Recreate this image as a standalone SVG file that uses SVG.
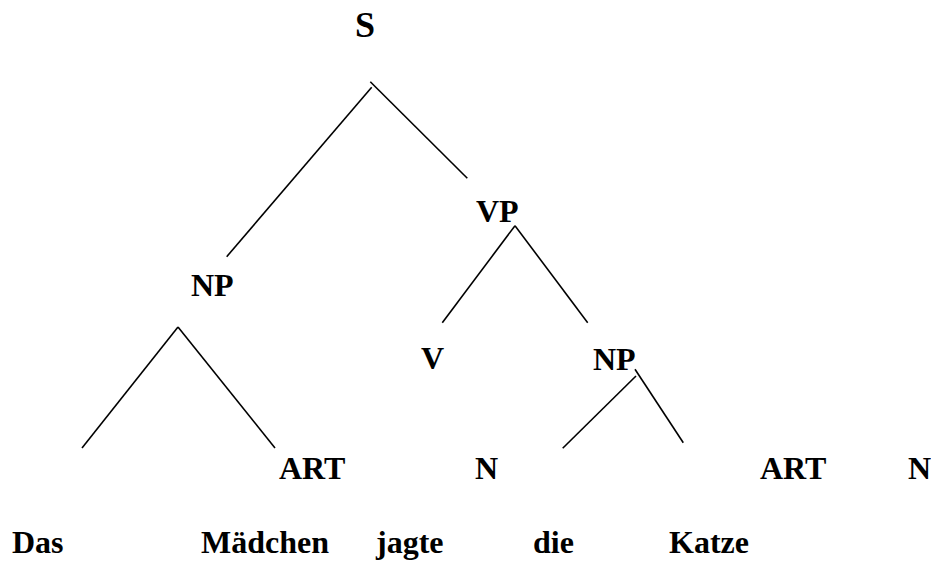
<svg xmlns="http://www.w3.org/2000/svg" width="931" height="561" viewBox="0 0 931 561">
  <style>
    .lbl { font-family: "Liberation Serif", "Times New Roman", serif; font-weight: bold; font-size: 32px; fill: #000; }
    .root { font-size: 36px; }
    .edge { stroke: #000; stroke-width: 1.6; fill: none; stroke-linecap: butt; }
  </style>
  <rect width="931" height="561" fill="#fff"/>

  <!-- tree branches -->
  <g id="connectors">
    <line class="edge" x1="371.7" y1="87.3" x2="226.7" y2="256.7"/>
    <line class="edge" x1="370.3" y1="81.7" x2="467.3" y2="178.3"/>
    <line class="edge" x1="515" y1="225.7" x2="442.3" y2="322.7"/>
    <line class="edge" x1="515" y1="225.7" x2="587.7" y2="322.7"/>
    <line class="edge" x1="178" y1="327" x2="82" y2="448"/>
    <line class="edge" x1="178" y1="327" x2="275" y2="448"/>
    <line class="edge" x1="636" y1="376" x2="562.7" y2="448.3"/>
    <line class="edge" x1="635" y1="369.3" x2="683.3" y2="442.7"/>
  </g>

  <!-- category labels -->
  <g id="node-S"><text class="lbl root" x="355" y="37">S</text></g>
  <g id="node-VP"><text class="lbl" x="476" y="222">VP</text></g>
  <g id="node-NP1"><text class="lbl" x="191" y="296">NP</text></g>
  <g id="node-V"><text class="lbl" x="421" y="369">V</text></g>
  <g id="node-NP2"><text class="lbl" x="593" y="370">NP</text></g>
  <g id="node-ART1"><text class="lbl" x="279" y="479">ART</text></g>
  <g id="node-N1"><text class="lbl" x="475" y="479">N</text></g>
  <g id="node-ART2"><text class="lbl" x="760" y="479">ART</text></g>
  <g id="node-N2"><text class="lbl" x="908" y="479">N</text></g>

  <!-- words -->
  <g id="word-Das"><text class="lbl" x="12" y="553">Das</text></g>
  <g id="word-Maedchen"><text class="lbl" x="201" y="553">Mädchen</text></g>
  <g id="word-jagte"><text class="lbl" x="376" y="553">jagte</text></g>
  <g id="word-die"><text class="lbl" x="533" y="553">die</text></g>
  <g id="word-Katze"><text class="lbl" x="669" y="553">Katze</text></g>
</svg>
